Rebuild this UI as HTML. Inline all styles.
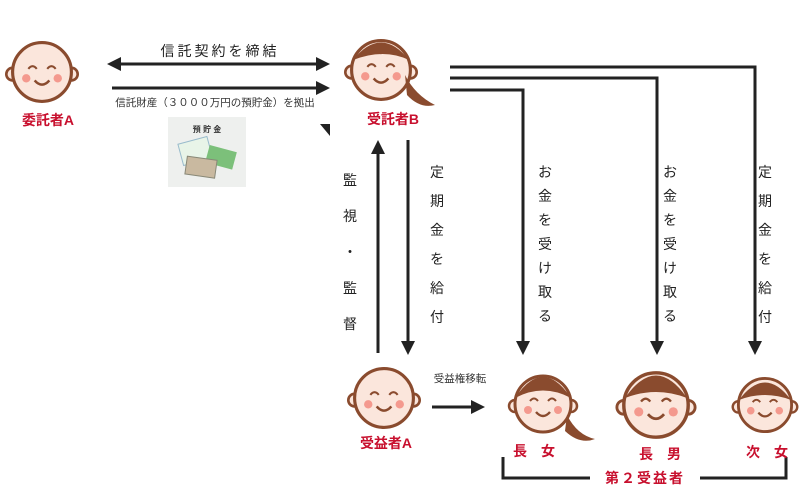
<!DOCTYPE html>
<html><head><meta charset="utf-8"><style>
body{margin:0;background:#fff;}
svg{display:block;font-family:"Liberation Sans","Noto Sans CJK JP",sans-serif;}
.r{fill:#c8102e;font-weight:bold;font-size:14px;}
.t{fill:#222;font-size:14px;}
</style></head><body>
<svg width="800" height="491" viewBox="0 0 800 491">
<defs>
<marker id="ah" markerWidth="14" markerHeight="14" refX="9" refY="7" orient="auto" markerUnits="userSpaceOnUse">
<path d="M0,0 L14,7 L0,14 Z" fill="#222"/></marker>
<g id="face">
<circle cx="-28" cy="2" r="6" fill="#fbe6dc" stroke="#8a4b2e" stroke-width="2.5"/>
<circle cx="28" cy="2" r="6" fill="#fbe6dc" stroke="#8a4b2e" stroke-width="2.5"/>
<circle cx="0" cy="0" r="28" fill="#fbe6dc" stroke="#8a4b2e" stroke-width="3"/>
<circle cx="-15" cy="6" r="4" fill="#f4998e"/><circle cx="15" cy="6" r="4" fill="#f4998e"/>
<path d="M-13,-3 q4,-5 8,0 M5,-3 q4,-5 8,0" stroke="#8a4b2e" stroke-width="2" fill="none"/>
<path d="M-7,8 q7,8 14,0" stroke="#8a4b2e" stroke-width="2.4" fill="none"/></g>
</defs>
<g stroke="#222" stroke-width="3" fill="none">
<line x1="115" y1="64" x2="325" y2="64" marker-end="url(#ah)"/>
<line x1="320" y1="64" x2="112" y2="64" marker-end="url(#ah)"/>
<line x1="112" y1="88" x2="325" y2="88" marker-end="url(#ah)"/>
<line x1="378" y1="353" x2="378" y2="145" marker-end="url(#ah)"/>
<line x1="408" y1="140" x2="408" y2="350" marker-end="url(#ah)"/>
<polyline points="450,90 523,90 523,350" marker-end="url(#ah)"/>
<polyline points="450,78 657,78 657,350" marker-end="url(#ah)"/>
<polyline points="450,67 755,67 755,350" marker-end="url(#ah)"/>
<line x1="432" y1="407" x2="480" y2="407" marker-end="url(#ah)"/>
<polyline points="503,457 503,478 590,478"/>
<polyline points="700,478 786,478 786,457"/>
</g>
<path d="M320,124 L330,124 L330,136 Z" fill="#222"/>
<text x="220" y="56" class="t" text-anchor="middle" letter-spacing="3">信託契約を締結</text>
<text x="215" y="106" fill="#333" font-size="10.5" text-anchor="middle">信託財産（３０００万円の預貯金）を拠出</text>
<rect x="168" y="117" width="78" height="70" fill="#eef0ee"/>
<text x="207" y="132" font-size="8" font-weight="bold" text-anchor="middle" fill="#333">預 貯 金</text>
<rect x="180" y="140" width="30" height="22" fill="#e8f4e8" stroke="#9bc" transform="rotate(-15 195 150)"/>
<rect x="207" y="148" width="28" height="18" fill="#7cc07a" transform="rotate(15 220 157)"/>
<rect x="186" y="158" width="30" height="18" fill="#c9b9a0" stroke="#887" transform="rotate(8 200 167)"/>
<use href="#face" transform="translate(42 72) scale(1.05)"/>
<use href="#face" transform="translate(381 70) scale(1.05)"/>
<use href="#face" transform="translate(384 398) scale(1.05)"/>
<use href="#face" x="543" y="404"/>
<use href="#face" transform="translate(656 405) scale(1.15)"/>
<use href="#face" transform="translate(765 405) scale(0.95)"/>
<path d="M405,75 q10,20 30,30 q-15,4 -28,-10 Z" fill="#8a4b2e"/>
<path d="M567,415 q10,20 28,24 q-15,6 -30,-8 Z" fill="#8a4b2e"/>
<path d="M353,60 q28,-35 56,0 q-25,-12 -56,0 Z" fill="#8a4b2e"/>
<path d="M515,398 q28,-42 56,0 q-28,-15 -56,0 Z" fill="#8a4b2e"/>
<path d="M625,398 q31,-45 62,0 q-31,-12 -62,0 Z" fill="#8a4b2e"/>
<path d="M739,400 q26,-35 52,0 q-26,-10 -52,0 Z" fill="#8a4b2e"/>
<text x="48" y="125" class="r" text-anchor="middle">委託者A</text>
<text x="393" y="124" class="r" text-anchor="middle">受託者B</text>
<text x="386" y="448" class="r" text-anchor="middle">受益者A</text>
<text x="534" y="456" class="r" text-anchor="middle" xml:space="preserve">長　女</text>
<text x="660" y="459" class="r" text-anchor="middle" xml:space="preserve">長　男</text>
<text x="767" y="457" class="r" text-anchor="middle" xml:space="preserve">次　女</text>
<text x="645" y="483" class="r" text-anchor="middle" letter-spacing="2">第２受益者</text>
<text x="460" y="382" fill="#333" font-size="10.5" text-anchor="middle">受益権移転</text>
<g class="t" text-anchor="middle">
<text x="350" y="185">監</text><text x="350" y="221">視</text><text x="350" y="257">・</text><text x="350" y="293">監</text><text x="350" y="329">督</text>
<text x="437" y="177">定</text><text x="437" y="206">期</text><text x="437" y="235">金</text><text x="437" y="264">を</text><text x="437" y="293">給</text><text x="437" y="322">付</text>
<text x="765" y="177">定</text><text x="765" y="206">期</text><text x="765" y="235">金</text><text x="765" y="264">を</text><text x="765" y="293">給</text><text x="765" y="322">付</text>
<text x="545" y="177">お</text><text x="545" y="201">金</text><text x="545" y="225">を</text><text x="545" y="249">受</text><text x="545" y="273">け</text><text x="545" y="297">取</text><text x="545" y="321">る</text>
<text x="670" y="177">お</text><text x="670" y="201">金</text><text x="670" y="225">を</text><text x="670" y="249">受</text><text x="670" y="273">け</text><text x="670" y="297">取</text><text x="670" y="321">る</text>
</g>
</svg>
</body></html>
